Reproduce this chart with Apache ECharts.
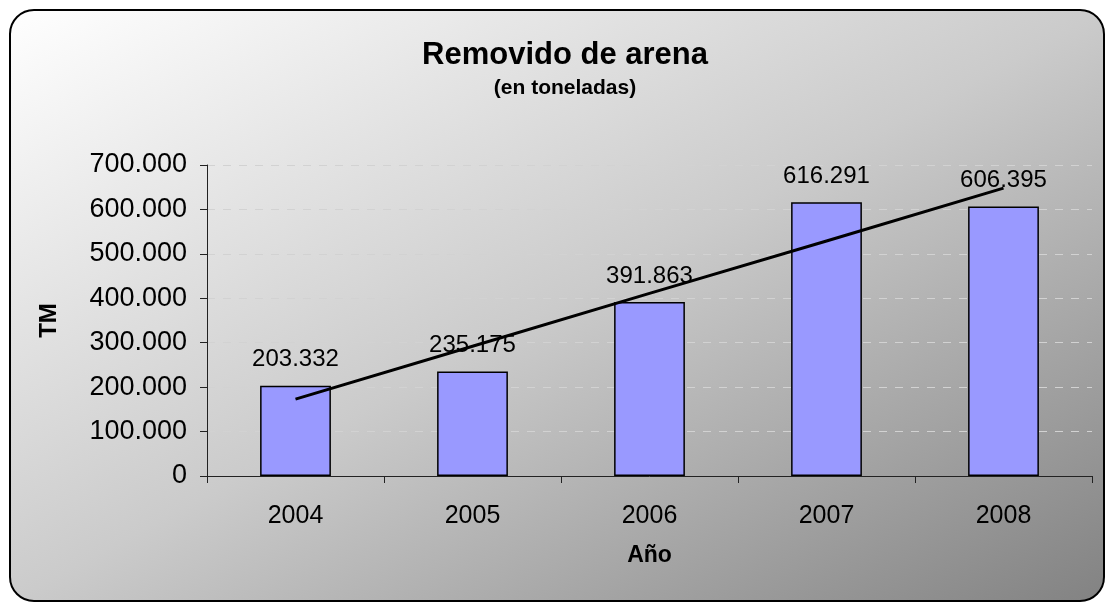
<!DOCTYPE html>
<html>
<head>
<meta charset="utf-8">
<script src="https://cdn.jsdelivr.net/npm/echarts@6/dist/echarts.min.js"></script>
<style>
  html, body { margin: 0; padding: 0; background: #fff; }
  #chart { width: 1106px; height: 603px; }
</style>
</head>
<body>
<div id="chart"></div>
<script>
// años (eje x)
var years = ["2004", "2005", "2006", "2007", "2008"];
// toneladas removidas
var tonnes = [203332, 235175, 391863, 616291, 606395];
// línea de tendencia
var trend = [173000, 292000, 411000, 529000, 648000];
// eje y
var yMin = 0;
var yMax = 700000;
var yStep = 100000;

function fmt(v) {
  return String(v).replace(/\B(?=(\d{3})+(?!\d))/g, ".");
}

var chartDom = document.getElementById("chart");
var myChart = echarts.init(chartDom);
var font = "Liberation Sans, Arial, sans-serif";

var option = {
  animation: false,
  textStyle: { fontFamily: font },
  graphic: [
    {
      // fondo con degradado diagonal (esquina a esquina)
      type: "rect",
      z: -10,
      silent: true,
      shape: { x: 10, y: 10, width: 1094, height: 591, r: 24 },
      style: {
        fill: new echarts.graphic.LinearGradient(0, 0, 0.452, 1.548, [
          { offset: 0, color: "#ffffff" },
          { offset: 0.5, color: "#cbcbcb" },
          { offset: 1, color: "#828282" },
        ]),
        stroke: "#000",
        lineWidth: 2,
      },
    },
  ],
  title: {
    text: "Removido de arena",
    subtext: "(en toneladas)",
    left: 560,
    textAlign: "center",
    top: 35,
    itemGap: 7,
    textStyle: { fontFamily: font, fontSize: 31, fontWeight: "bold", color: "#000" },
    subtextStyle: { fontFamily: font, fontSize: 21, fontWeight: "bold", color: "#000" },
  },
  grid: {
    left: 207,
    right: 14,
    top: 165,
    bottom: 127,
  },
  xAxis: {
    type: "category",
    data: years,
    name: "Año",
    nameLocation: "middle",
    nameGap: 68,
    nameTextStyle: { fontFamily: font, fontSize: 23, fontWeight: "bold", color: "#000" },
    axisLine: { lineStyle: { color: "#222", width: 1 } },
    axisTick: { show: true, length: 7, lineStyle: { color: "#222" } },
    axisLabel: { fontFamily: font, fontSize: 25, color: "#000", margin: 28 },
  },
  yAxis: {
    type: "value",
    min: yMin,
    max: yMax,
    interval: yStep,
    name: "TM",
    nameLocation: "middle",
    nameRotate: 90,
    nameGap: 146,
    nameTextStyle: { fontFamily: font, fontSize: 24, fontWeight: "bold", color: "#000" },
    axisLine: { show: true, lineStyle: { color: "#222", width: 1 } },
    axisTick: { show: true, length: 7, lineStyle: { color: "#222" } },
    axisLabel: {
      fontFamily: font,
      fontSize: 27,
      color: "#000",
      margin: 20,
      formatter: function (v) { return fmt(v); },
    },
    splitLine: {
      show: true,
      lineStyle: { color: "#d2d2d2", type: [8, 8], width: 1 },
    },
  },
  series: [
    {
      name: "Toneladas",
      type: "bar",
      data: tonnes,
      barWidth: "40%",
      itemStyle: { color: "#9999ff", borderColor: "#000", borderWidth: 1.5 },
      label: {
        show: true,
        position: "top",
        distance: 14,
        fontFamily: font,
        fontSize: 24,
        color: "#000",
        formatter: function (p) { return fmt(p.value); },
      },
      z: 2,
    },
    {
      name: "Tendencia",
      type: "line",
      data: trend,
      symbol: "none",
      lineStyle: { color: "#000", width: 3 },
      z: 3,
    },
  ],
};

option && myChart.setOption(option);
</script>
</body>
</html>
